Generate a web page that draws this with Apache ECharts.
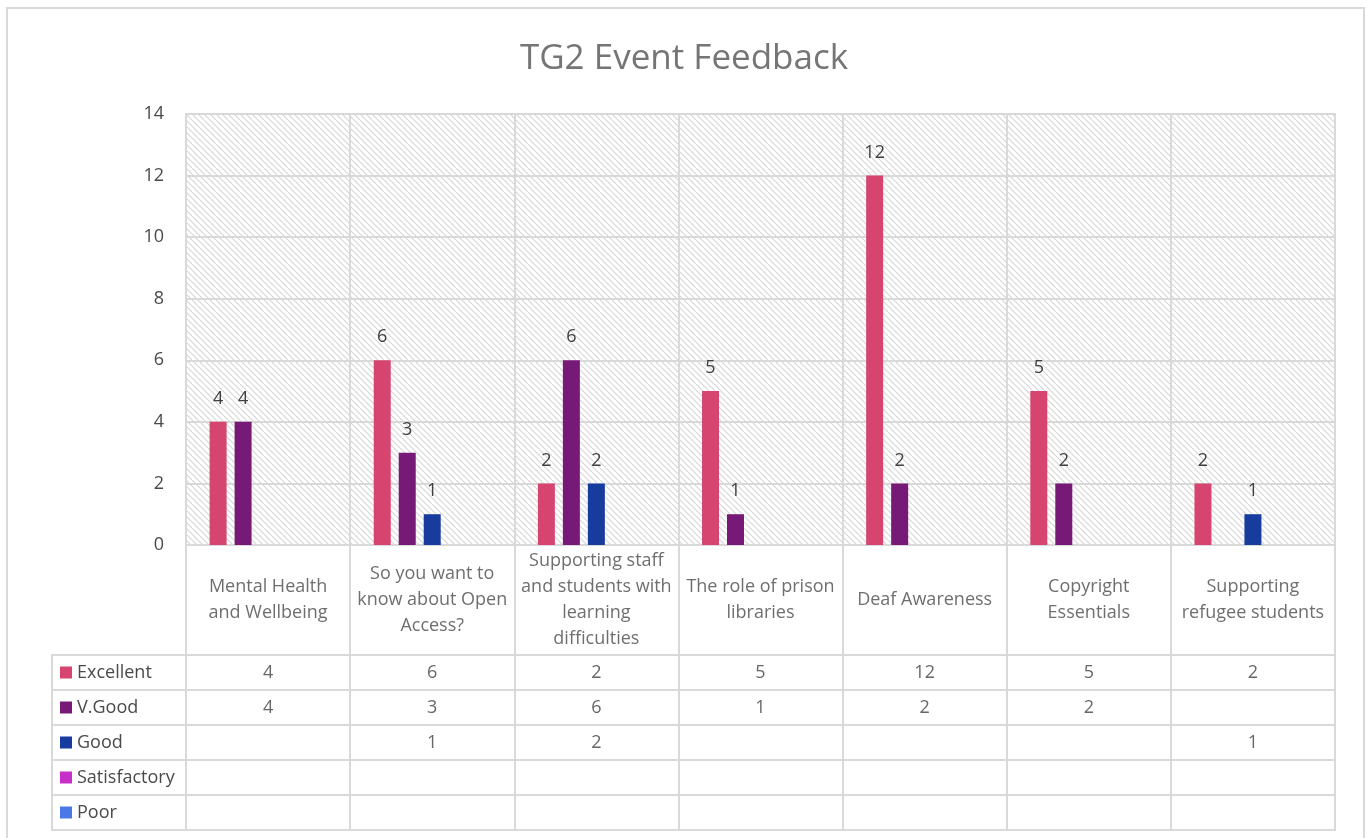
<!DOCTYPE html>
<html>
<head>
<meta charset="utf-8">
<title>TG2 Event Feedback</title>
<script src="https://cdn.jsdelivr.net/npm/echarts@6/dist/echarts.min.js"></script>
<style>
  html, body { margin: 0; padding: 0; background: #fff; }
  #chart { width: 1368px; height: 838px; }
</style>
</head>
<body>
<div id="chart"></div>
<script>
// chart data
const categories = [
  'Mental Health\nand Wellbeing',
  'So you want to\nknow about Open\nAccess?',
  'Supporting staff\nand students with\nlearning\ndifficulties',
  'The role of prison\nlibraries',
  'Deaf Awareness',
  'Copyright\nEssentials',
  'Supporting\nrefugee students'
];
const seriesNames = ['Excellent', 'V.Good', 'Good', 'Satisfactory', 'Poor'];
const excellent = [4, 6, 2, 5, 12, 5, 2];
const vGood = [4, 3, 6, 1, 2, 2, null];
const good = [null, 1, 2, null, null, null, 1];
const satisfactory = [null, null, null, null, null, null, null];
const poor = [null, null, null, null, null, null, null];
const yTicks = { min: 0, max: 14, interval: 2 };

const seriesColors = ['#D5456F', '#771A77', '#173C9E', '#C62FC8', '#4A78E6'];
const allValues = [excellent, vGood, good, satisfactory, poor];

const gridLine = '#d9d9d9';
const textColor = '#4a4a4a';
const fontFamily = '"Open Sans", "Liberation Sans", sans-serif';

// diagonal hatch for the plot area
function makeHatch() {
  const n = 6;
  const c = document.createElement('canvas');
  c.width = n; c.height = n;
  const ctx = c.getContext('2d');
  ctx.fillStyle = '#ffffff';
  ctx.fillRect(0, 0, n, n);
  ctx.strokeStyle = '#d6d6d6';
  ctx.lineWidth = 1.2;
  for (const k of [-n, 0, n]) {
    ctx.beginPath();
    ctx.moveTo(k, 0);
    ctx.lineTo(k + n, n);
    ctx.stroke();
  }
  return c;
}

const chart = echarts.init(document.getElementById('chart'));

// table cells (values) and category-name cells
const cellData = [];
allValues.forEach((vals, ri) => {
  vals.forEach((v, ci) => {
    if (v !== null) cellData.push([ci, ri, v]);
  });
});
const nameCells = categories.map((c, i) => [i, 0]);

const barSeries = seriesNames.map((name, i) => ({
  name,
  type: 'bar',
  xAxisIndex: 0,
  yAxisIndex: 0,
  data: allValues[i],
  barWidth: 17,
  barGap: '47%',
  itemStyle: { color: seriesColors[i] },
  label: {
    show: true,
    position: 'top',
    distance: 14,
    fontSize: 18,
    color: '#404040',
    fontFamily
  }
}));

const option = {
  backgroundColor: '#fff',
  animation: false,
  title: {
    text: 'TG2 Event Feedback',
    left: 'center',
    top: 37,
    textStyle: { fontSize: 35, fontWeight: 'normal', color: '#757575', fontFamily }
  },
  graphic: [{
    type: 'rect',
    shape: { x: 7, y: 8, width: 1357, height: 840 },
    style: { fill: null, stroke: gridLine, lineWidth: 2 },
    silent: true
  }],
  grid: [
    // plot area
    { left: 186, top: 114, width: 1149, height: 431, show: true, borderColor: gridLine, borderWidth: 2,
      backgroundColor: { image: makeHatch(), repeat: 'repeat' } },
    // category name row
    { left: 186, top: 545, width: 1149, height: 110, show: true, borderColor: gridLine, borderWidth: 2 },
    // data table rows
    { left: 186, top: 655, width: 1149, height: 175, show: true, borderColor: gridLine, borderWidth: 2 },
    // legend column
    { left: 52, top: 655, width: 134, height: 175, show: true, borderColor: gridLine, borderWidth: 2 }
  ],
  xAxis: [
    { gridIndex: 0, type: 'category', data: categories,
      axisLine: { lineStyle: { color: gridLine, width: 2 } }, axisTick: { show: false }, axisLabel: { show: false },
      splitLine: { show: true, lineStyle: { color: gridLine, width: 2 } } },
    { gridIndex: 1, type: 'category', data: categories,
      axisLine: { show: false }, axisTick: { show: false }, axisLabel: { show: false },
      splitLine: { show: true, lineStyle: { color: gridLine, width: 2 } } },
    { gridIndex: 2, type: 'category', data: categories,
      axisLine: { show: false }, axisTick: { show: false }, axisLabel: { show: false },
      splitLine: { show: true, lineStyle: { color: gridLine, width: 2 } } },
    { gridIndex: 3, type: 'category', data: [''],
      axisLine: { show: false }, axisTick: { show: false }, axisLabel: { show: false } }
  ],
  yAxis: [
    { gridIndex: 0, type: 'value', min: yTicks.min, max: yTicks.max, interval: yTicks.interval,
      axisLine: { show: false }, axisTick: { show: false },
      axisLabel: { fontSize: 18, color: textColor, margin: 22, fontFamily },
      splitLine: { lineStyle: { color: gridLine, width: 2 } } },
    { gridIndex: 1, type: 'category', data: [''],
      axisLine: { show: false }, axisTick: { show: false }, axisLabel: { show: false } },
    { gridIndex: 2, type: 'category', data: seriesNames, inverse: true,
      axisLine: { show: false }, axisTick: { show: false }, axisLabel: { show: false },
      splitLine: { show: true, lineStyle: { color: gridLine, width: 2 } } },
    { gridIndex: 3, type: 'category', data: seriesNames, inverse: true,
      axisLine: { show: false }, axisTick: { show: false },
      splitLine: { show: true, lineStyle: { color: gridLine, width: 2 } },
      axisLabel: {
        inside: true,
        margin: 8,
        align: 'left',
        fontSize: 18,
        color: textColor,
        fontFamily,
        formatter: (v, i) => '{s' + i + '|}{t|' + v + '}',
        rich: Object.assign(
          { t: { fontSize: 18, color: textColor, fontFamily, padding: [0, 0, 0, 5] } },
          ...seriesColors.map((c, i) => ({ ['s' + i]: { backgroundColor: c, width: 12, height: 12 } }))
        )
      } }
  ],
  series: barSeries.concat([
    {
      type: 'scatter',
      xAxisIndex: 1,
      yAxisIndex: 1,
      symbolSize: 0,
      data: nameCells,
      label: {
        show: true,
        position: 'inside',
        fontSize: 18,
        lineHeight: 26,
        color: textColor,
        fontFamily,
        align: 'center',
        formatter: p => categories[p.value[0]]
      }
    },
    {
      type: 'scatter',
      xAxisIndex: 2,
      yAxisIndex: 2,
      symbolSize: 0,
      data: cellData,
      label: {
        show: true,
        position: 'inside',
        fontSize: 18,
        color: '#404040',
        fontFamily,
        formatter: p => String(p.value[2])
      }
    }
  ])
};

chart.setOption(option);
</script>
</body>
</html>
